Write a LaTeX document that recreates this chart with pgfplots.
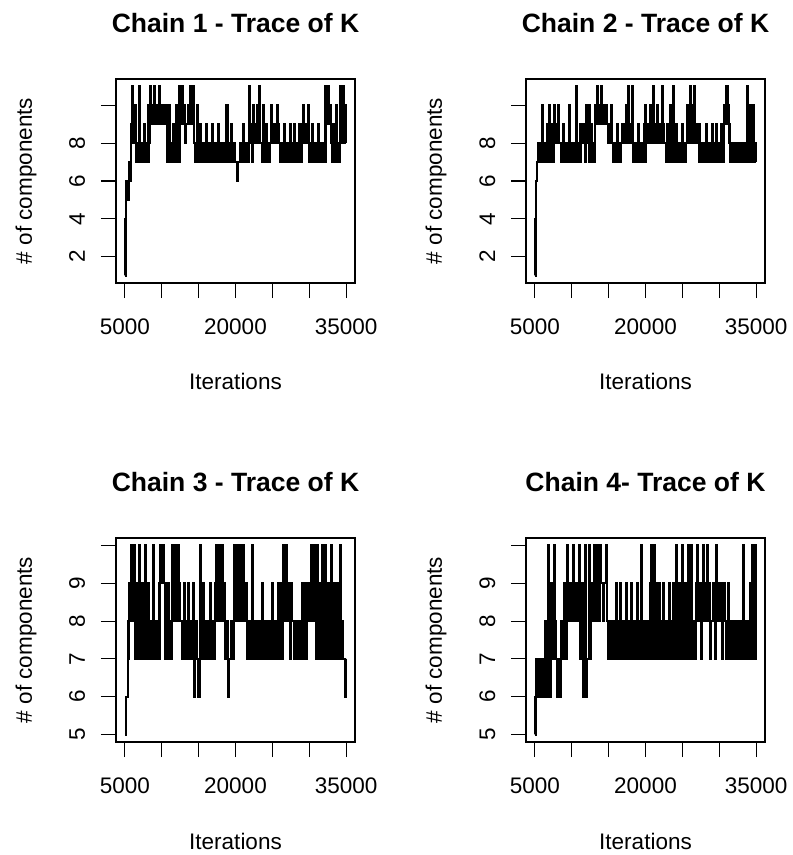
\documentclass[border=0pt]{standalone}
\usepackage{pgfplots}
\pgfplotsset{compat=1.18}
\usepackage{pgfplotstable}
\usepackage{fontspec}
\setmainfont{Liberation Sans}
\newcommand{\ticksize}{\fontsize{22.5}{27}\selectfont}
\newcommand{\titlesize}{\fontsize{26.5}{32}\selectfont\bfseries}

\pgfplotstableread{
x c1 c2 c3 c4
5000 1 1 5 5
5100 4 4 5 6
5200 6 6 6 7
5300 5 7 6 6
5400 5 8 7 6
5500 5 7 8 6
5600 7 7 9 7
5700 6 7 8 6
5800 9 8 10 6
5900 8 7 8 6
6000 11 10 8 7
6100 8 7 8 6
6200 8 8 10 6
6300 8 7 8 6
6400 10 7 7 8
6500 7 7 7 6
6600 8 9 9 6
6700 7 7 7 6
6800 7 8 8 10
6900 7 7 7 6
7000 11 10 10 8
7100 7 7 7 6
7200 8 7 7 9
7300 7 7 7 7
7400 7 9 9 7
7500 7 7 7 7
7600 9 10 7 10
7700 7 8 7 7
7800 7 8 10 8
7900 7 8 7 7
8000 8 9 8 6
8100 7 8 7 7
8200 10 10 9 7
8300 8 8 7 7
8400 11 8 7 6
8500 9 8 7 7
8600 9 7 8 8
8700 9 8 7 7
8800 10 9 10 7
8900 9 8 7 7
9000 11 7 7 9
9100 9 7 7 7
9200 10 8 8 7
9300 9 7 7 7
9400 9 7 7 10
9500 9 7 7 8
9600 11 10 9 8
9700 9 7 7 8
9800 10 7 10 9
9900 9 7 9 8
10000 9 8 9 8
10100 9 7 9 8
10200 10 7 10 10
10300 9 7 9 8
10400 9 8 8 9
10500 9 7 7 8
10600 10 11 7 8
10700 9 7 7 8
10800 7 8 9 9
10900 7 7 7 8
11000 10 7 7 10
11100 7 7 7 8
11200 8 9 8 7
11300 7 8 7 7
11400 7 8 10 9
11500 7 8 8 7
11600 9 9 9 6
11700 7 8 8 7
11800 7 7 10 10
11900 7 8 8 7
12000 10 10 9 6
12100 7 8 8 7
12200 8 8 10 7
12300 7 7 8 7
12400 11 10 9 10
12500 9 7 8 7
12600 9 9 8 8
12700 9 7 8 8
12800 11 7 7 9
12900 9 7 7 8
13000 10 8 9 10
13100 9 7 7 8
13200 8 10 8 9
13300 9 9 7 8
13400 9 11 7 10
13500 9 9 7 8
13600 10 9 9 9
13700 9 9 7 8
13800 11 10 7 10
13900 9 9 7 9
14000 9 11 8 9
14100 9 9 7 9
14200 11 10 9 8
14300 9 9 7 9
14400 8 9 6 9
14500 7 9 7 9
14600 7 10 8 10
14700 7 9 7 9
14800 10 9 7 8
14900 7 9 7 8
15000 7 8 6 7
15100 7 8 7 8
15200 9 9 10 8
15300 7 8 7 8
15400 7 10 8 7
15500 7 8 7 7
15600 8 7 9 8
15700 7 7 7 7
15800 7 8 7 7
15900 7 7 7 7
16000 9 7 8 9
16100 7 7 7 7
16200 7 9 7 7
16300 7 7 7 7
16400 8 8 8 8
16500 7 7 7 7
16600 7 7 9 9
16700 7 8 7 7
16800 9 9 7 7
16900 7 8 7 7
17000 8 8 8 8
17100 7 8 7 7
17200 7 9 9 7
17300 7 8 8 7
17400 8 10 10 9
17500 7 8 8 7
17600 9 11 9 8
17700 7 8 8 7
17800 7 8 10 7
17900 7 8 8 7
18000 8 9 8 9
18100 7 8 8 7
18200 7 11 10 8
18300 7 7 8 7
18400 8 7 9 7
18500 7 7 8 7
18600 7 8 7 8
18700 7 7 7 7
18800 10 7 8 9
18900 7 7 7 7
19000 7 9 6 7
19100 7 7 7 7
19200 8 7 7 8
19300 7 7 7 7
19400 9 8 8 10
19500 7 7 7 7
19600 7 7 7 8
19700 7 7 7 7
19800 8 9 10 7
19900 7 7 8 7
20000 7 10 9 8
20100 7 8 8 7
20200 6 8 10 7
20300 7 8 8 7
20400 7 9 8 8
20500 7 8 8 7
20600 8 10 10 9
20700 7 8 8 7
20800 7 8 9 10
20900 7 8 8 7
21000 9 11 10 8
21100 7 8 8 7
21200 8 9 8 10
21300 7 8 8 7
21400 7 8 9 9
21500 7 8 8 7
21600 8 10 7 7
21700 7 8 7 7
21800 11 8 8 9
21900 8 8 7 7
22000 9 9 7 8
22100 8 8 7 7
22200 7 11 10 7
22300 8 8 7 7
22400 10 9 8 9
22500 8 8 7 7
22600 8 8 7 8
22700 8 8 7 7
22800 9 7 8 7
22900 8 7 7 7
23000 10 9 7 8
23100 8 7 7 7
23200 11 8 8 9
23300 8 7 7 7
23400 8 10 7 7
23500 8 7 7 7
23600 7 7 9 8
23700 7 7 7 7
23800 10 11 7 9
23900 7 7 7 7
24000 8 8 8 7
24100 7 7 7 7
24200 9 9 7 10
24300 7 7 7 7
24400 7 7 8 8
24500 7 7 7 7
24600 8 8 7 9
24700 8 7 7 7
24800 10 7 8 7
24900 8 7 7 7
25000 8 9 9 10
25100 8 7 7 7
25200 9 8 7 8
25300 8 7 7 7
25400 8 7 8 9
25500 8 8 7 7
25600 10 10 7 7
25700 8 8 7 7
25800 9 9 9 10
25900 8 8 7 7
26000 7 11 8 9
26100 7 8 7 7
26200 8 9 9 10
26300 7 8 7 7
26400 7 10 10 7
26500 7 8 8 7
26600 9 11 9 8
26700 7 8 8 7
26800 7 9 10 9
26900 7 8 8 8
27000 8 8 8 10
27100 7 8 8 8
27200 7 9 9 8
27300 7 7 8 8
27400 9 7 7 9
27500 7 7 8 8
27600 8 8 9 7
27700 7 7 8 8
27800 7 7 8 10
27900 7 7 8 8
28000 9 8 7 9
28100 7 7 7 8
28200 7 9 8 8
28300 7 7 7 8
28400 8 7 7 10
28500 7 7 7 8
28600 9 8 8 9
28700 7 7 7 8
28800 7 7 7 7
28900 7 7 7 8
29000 9 9 9 8
29100 8 7 7 8
29200 10 8 8 9
29300 8 7 8 8
29400 8 7 9 7
29500 8 7 8 8
29600 9 9 7 10
29700 8 7 8 8
29800 10 8 9 9
29900 8 7 8 8
30000 7 7 8 8
30100 7 7 8 8
30200 8 9 10 9
30300 7 7 8 8
30400 9 8 9 7
30500 7 7 8 8
30600 7 10 10 9
30700 7 9 8 8
30800 8 9 8 8
30900 7 9 7 7
31000 7 11 10 7
31100 7 9 7 7
31200 9 10 7 9
31300 7 9 7 7
31400 8 8 9 8
31500 7 7 7 7
31600 7 7 8 7
31700 7 7 7 7
31800 8 8 10 8
31900 7 7 7 7
32000 7 7 9 7
32100 7 7 7 7
32200 11 8 10 8
32300 9 7 7 7
32400 9 7 8 7
32500 9 7 7 7
32600 11 8 9 8
32700 9 7 7 7
32800 10 7 7 7
32900 9 7 7 7
33000 8 8 10 8
33100 7 7 7 7
33200 7 7 8 10
33300 7 7 7 7
33400 9 8 9 7
33500 7 7 7 7
33600 10 7 8 8
33700 7 7 7 7
33800 7 11 9 7
33900 7 7 7 7
34000 8 8 7 8
34100 7 7 7 7
34200 11 10 10 9
34300 8 7 7 7
34400 9 9 8 10
34500 8 7 7 7
34600 11 10 7 8
34700 8 7 7 7
34800 10 8 6 10
34900 8 7 7 7
35000 8 7 7 9
}\tracedata

\pgfplotsset{
  traceaxis/.style={
    scale only axis, width=239pt, height=204pt,
    xmin=3800, xmax=36200,
    xtick={5000,10000,15000,20000,25000,30000,35000},
    xticklabels={5000,,,20000,,,35000},
    scaled x ticks=false,
    xtick pos=left, ytick pos=left,
    tick align=outside,
    major tick length=15pt,
    every tick/.style={black, line width=1.1pt},
    axis line style={black, line width=1.1pt},
    ticklabel style={font=\ticksize},
    xticklabel style={anchor=base, yshift=-36pt},
    yticklabel style={xshift=-16pt, rotate=90, anchor=base},
    every axis title/.style={at={(axis description cs:0.5,1.2255)}, anchor=base, font=\titlesize},
    every axis x label/.style={at={(axis description cs:0.5,-0.5245)}, anchor=base, font=\ticksize},
    every axis y label/.style={at={(axis description cs:-0.3515,0.5)}, rotate=90, anchor=base, font=\ticksize},
    xlabel={Iterations},
    ylabel={\# of components},
  },
  tracek/.style={const plot, black, line width=2.3pt, line join=miter},
}

\begin{document}
\begin{tikzpicture}
\path[use as bounding box] (0pt,0pt) rectangle (793pt,855pt);
\begin{axis}[traceaxis, at={(116pt,572pt)}, anchor=south west,
  ymin=0.6, ymax=11.4, ytick={2,4,6,8,10}, yticklabels={2,4,6,8,},
  title={Chain 1 - Trace of K}]
\addplot[tracek] table[x=x, y=c1] {\tracedata};
\end{axis}
\begin{axis}[traceaxis, at={(526pt,572pt)}, anchor=south west,
  ymin=0.6, ymax=11.4, ytick={2,4,6,8,10}, yticklabels={2,4,6,8,},
  title={Chain 2 - Trace of K}]
\addplot[tracek] table[x=x, y=c2] {\tracedata};
\end{axis}
\begin{axis}[traceaxis, at={(116pt,113pt)}, anchor=south west,
  ymin=4.8, ymax=10.2, ytick={5,6,7,8,9,10}, yticklabels={5,6,7,8,9,},
  title={Chain 3 - Trace of K}]
\addplot[tracek] table[x=x, y=c3] {\tracedata};
\end{axis}
\begin{axis}[traceaxis, at={(526pt,113pt)}, anchor=south west,
  ymin=4.8, ymax=10.2, ytick={5,6,7,8,9,10}, yticklabels={5,6,7,8,9,},
  title={Chain 4- Trace of K}]
\addplot[tracek] table[x=x, y=c4] {\tracedata};
\end{axis}
\end{tikzpicture}
\end{document}
